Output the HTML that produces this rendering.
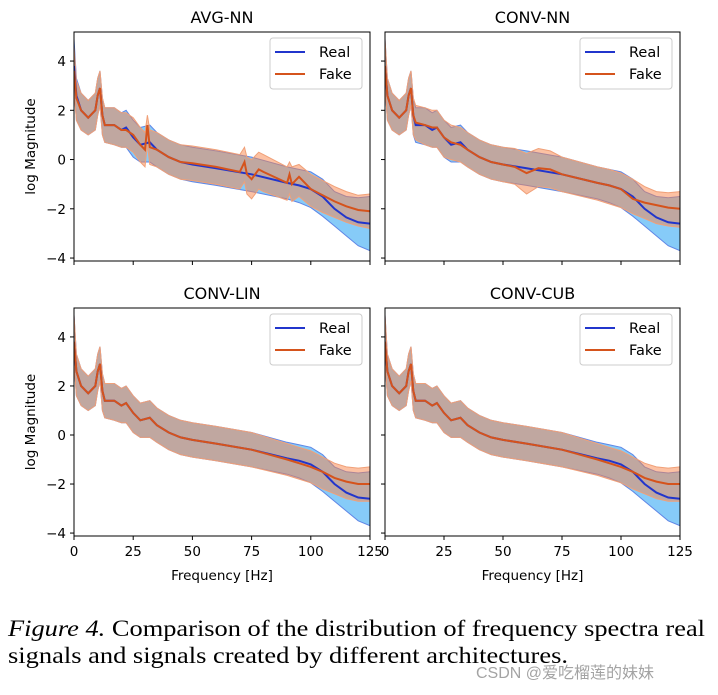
<!DOCTYPE html>
<html><head><meta charset="utf-8"><style>
body{margin:0;background:#fff;width:718px;height:690px;overflow:hidden}
svg text{font-family:"DejaVu Sans","Liberation Sans",sans-serif;fill:#000}
</style></head><body>
<svg id="fig" width="718" height="690" xmlns="http://www.w3.org/2000/svg">
<text x="8" y="636" style="font-family:'Liberation Serif',serif;font-size:23px" textLength="697" lengthAdjust="spacingAndGlyphs"><tspan font-style="italic">Figure 4.</tspan> Comparison of the distribution of frequency spectra real</text>
<text x="8" y="663" style="font-family:'Liberation Serif',serif;font-size:23px" textLength="560" lengthAdjust="spacingAndGlyphs">signals and signals created by different architectures.</text>
<text x="476" y="678" style="font-family:'Liberation Sans','Noto Sans CJK SC',sans-serif;font-size:16px;fill:#9a9a9a;opacity:0.9">CSDN @爱吃榴莲的妹妹</text>
</svg>
<script>
const freq=[0,1,3,6,9,10,11,12,13,17,20,22,25,28,32,35,40,45,50,60,75,90,95,100,105,110,115,120,125];
const realMean=[3.8,2.6,2.0,1.7,2.0,2.6,2.9,1.8,1.4,1.4,1.2,1.3,0.9,0.6,0.7,0.4,0.1,-0.1,-0.2,-0.35,-0.6,-0.95,-1.05,-1.2,-1.5,-2.0,-2.35,-2.55,-2.6];
const realHi=[4.9,3.3,2.7,2.4,2.7,3.3,3.6,2.5,2.1,2.1,1.9,2.0,1.6,1.3,1.4,1.1,0.8,0.6,0.5,0.35,0.1,-0.3,-0.4,-0.5,-0.8,-1.3,-1.5,-1.55,-1.5];
const realLo=[3.0,1.6,1.2,1.0,1.2,1.8,2.2,1.0,0.7,0.6,0.5,0.5,0.1,-0.1,-0.1,-0.3,-0.6,-0.8,-0.9,-1.05,-1.3,-1.6,-1.75,-1.95,-2.3,-2.7,-3.1,-3.5,-3.7];
const fakeFreqAvg=[0,1,3,6,9,10,11,12,13,17,20,22,25,28,30,31,32,35,40,45,50,60,70,72,73,75,78,80,90,91,92,95,100,105,110,115,120,125];
const fakeMeanAvg=[3.6,2.5,2.0,1.7,2.0,2.6,2.9,1.8,1.4,1.4,1.2,1.2,1.0,0.6,0.4,1.4,0.5,0.4,0.1,-0.1,-0.15,-0.3,-0.5,-0.1,-0.6,-0.8,-0.4,-0.5,-0.95,-0.6,-1.0,-0.7,-1.2,-1.45,-1.7,-1.9,-2.05,-2.1];
const fakeHiAvg=[4.6,3.2,2.7,2.4,2.7,3.3,3.6,2.5,2.1,2.1,1.9,1.9,1.7,1.3,1.1,1.8,1.2,1.1,0.8,0.6,0.55,0.4,0.2,0.5,0.1,0.0,0.3,0.2,-0.3,-0.1,-0.3,-0.2,-0.6,-0.85,-1.1,-1.3,-1.45,-1.4];
const fakeLoAvg=[2.8,1.6,1.2,1.0,1.2,1.8,2.2,1.0,0.7,0.6,0.5,0.5,0.3,-0.1,-0.3,0.6,-0.2,-0.3,-0.6,-0.8,-0.85,-1.0,-1.2,-0.9,-1.4,-1.6,-1.2,-1.3,-1.65,-1.4,-1.7,-1.5,-1.9,-2.15,-2.35,-2.55,-2.7,-2.8];
const fakeFreqConv=[0,1,3,6,9,10,11,12,13,17,20,22,25,28,32,35,40,45,50,55,60,65,70,75,90,95,100,105,110,115,120,125];
const fakeMeanConv=[3.8,2.6,2.0,1.7,2.0,2.6,2.9,1.8,1.5,1.4,1.3,1.3,0.9,0.7,0.6,0.4,0.1,-0.1,-0.2,-0.3,-0.55,-0.35,-0.4,-0.6,-0.95,-1.05,-1.2,-1.6,-1.75,-1.85,-1.95,-2.0];
const fakeHiConv=[4.9,3.3,2.7,2.4,2.7,3.3,3.6,2.5,2.2,2.1,2.0,2.0,1.6,1.4,1.3,1.1,0.8,0.6,0.5,0.45,0.25,0.45,0.35,0.1,-0.3,-0.4,-0.55,-0.8,-1.1,-1.3,-1.35,-1.3];
const fakeLoConv=[3.0,1.6,1.2,1.0,1.2,1.8,2.2,1.0,0.8,0.6,0.5,0.5,0.1,0.0,-0.1,-0.3,-0.6,-0.8,-0.9,-1.0,-1.4,-1.1,-1.15,-1.3,-1.65,-1.8,-1.95,-2.2,-2.4,-2.6,-2.7,-2.75];
const fakeMeanSmooth=[3.8,2.6,2.0,1.7,2.0,2.6,2.9,1.8,1.4,1.4,1.2,1.3,0.9,0.6,0.7,0.4,0.1,-0.1,-0.2,-0.35,-0.6,-1.0,-1.15,-1.3,-1.5,-1.75,-1.9,-2.0,-2.0];
const fakeHiSmooth=[4.9,3.3,2.7,2.4,2.7,3.3,3.6,2.5,2.1,2.1,1.9,2.0,1.6,1.3,1.4,1.1,0.8,0.6,0.5,0.35,0.1,-0.35,-0.5,-0.65,-0.9,-1.15,-1.3,-1.35,-1.3];
const fakeLoSmooth=[3.0,1.6,1.2,1.0,1.2,1.8,2.2,1.0,0.7,0.6,0.5,0.5,0.1,-0.1,-0.1,-0.3,-0.6,-0.8,-0.9,-1.05,-1.3,-1.65,-1.8,-1.95,-2.2,-2.4,-2.6,-2.7,-2.7];
const xTicks=[0,25,50,75,100,125];
const yTicks=[-4,-2,0,2,4];
const panelTitles=["AVG-NN","CONV-NN","CONV-LIN","CONV-CUB"];

const NS="http://www.w3.org/2000/svg";
const svg=document.getElementById('fig');
function mk(tag,attrs,parent){const e=document.createElementNS(NS,tag);for(const k in attrs)e.setAttribute(k,attrs[k]);(parent||svg).appendChild(e);return e;}
const panels=[
 {x0:74,x1:370,y0:32,y1:261,yl:true,xl:false,ff:fakeFreqAvg,fm:fakeMeanAvg,fh:fakeHiAvg,flo:fakeLoAvg},
 {x0:385,x1:680,y0:32,y1:261,yl:false,xl:false,ff:fakeFreqConv,fm:fakeMeanConv,fh:fakeHiConv,flo:fakeLoConv},
 {x0:74,x1:370,y0:308,y1:536,yl:true,xl:true,ff:freq,fm:fakeMeanSmooth,fh:fakeHiSmooth,flo:fakeLoSmooth},
 {x0:385,x1:680,y0:308,y1:536,yl:false,xl:true,ff:freq,fm:fakeMeanSmooth,fh:fakeHiSmooth,flo:fakeLoSmooth}
];
const YMIN=-4.12,YMAX=5.18;
panels.forEach((p,i)=>{
 const sx=f=>p.x0+(f/125)*(p.x1-p.x0);
 const sy=v=>p.y1-(v-YMIN)/(YMAX-YMIN)*(p.y1-p.y0);
 const g=mk('g',{});
 
 
 const cp=mk('clipPath',{id:'cp'+i},g);
 mk('rect',{x:p.x0,y:p.y0,width:p.x1-p.x0,height:p.y1-p.y0},cp);
 const pg=mk('g',{'clip-path':'url(#cp'+i+')'},g);
 const band=(fs,hi,lo)=>{let d='';fs.forEach((f,k)=>d+=(k?'L':'M')+sx(f).toFixed(1)+','+sy(hi[k]).toFixed(1));for(let k=fs.length-1;k>=0;k--)d+='L'+sx(fs[k]).toFixed(1)+','+sy(lo[k]).toFixed(1);return d+'Z';};
 const line=(fs,v)=>fs.map((f,k)=>(k?'L':'M')+sx(f).toFixed(1)+','+sy(v[k]).toFixed(1)).join('');
 const rb=mk('path',{d:band(freq,realHi,realLo),fill:'#86cbf8',stroke:'#5f86e6','stroke-width':1},pg);
 
 
 const fb=mk('path',{d:band(p.ff,p.fh,p.flo),fill:'rgb(250,132,72)','fill-opacity':0.5,stroke:'#f0a078','stroke-width':1},pg);
 
 
 const rl=mk('path',{d:line(freq,realMean),fill:'none',stroke:'#2135cc','stroke-width':2},pg);
 
 
 const fl=mk('path',{d:line(p.ff,p.fm),fill:'none',stroke:'#d5531c','stroke-width':2},pg);
 
 
 mk('rect',{x:p.x0,y:p.y0,width:p.x1-p.x0,height:p.y1-p.y0,fill:'none',stroke:'#000','stroke-width':1},g);
 const t=mk('text',{x:(p.x0+p.x1)/2,y:p.y0-9,'text-anchor':'middle','font-size':16},g);t.textContent=panelTitles[i];
 
 
 xTicks.forEach(v=>{mk('line',{x1:sx(v),x2:sx(v),y1:p.y1,y2:p.y1+4,stroke:'#000'},g);
  if(p.xl){const tx=mk('text',{x:sx(v),y:p.y1+20,'text-anchor':'middle','font-size':13.5},g);tx.textContent=v;
   
   }});
 yTicks.forEach(v=>{mk('line',{x1:p.x0-4,x2:p.x0,y1:sy(v),y2:sy(v),stroke:'#000'},g);
  if(p.yl){const ty=mk('text',{x:p.x0-8,y:sy(v)+5,'text-anchor':'end','font-size':13.5},g);ty.textContent=v<0?'\u2212'+(-v):v;
   
   }});
 if(p.yl){const yt=mk('text',{x:0,y:0,'text-anchor':'middle','font-size':13.5,transform:`translate(35,${(p.y0+p.y1)/2}) rotate(-90)`},g);yt.textContent='log Magnitude';
  
  }
 if(p.xl){const xt=mk('text',{x:(p.x0+p.x1)/2,y:p.y1+44,'text-anchor':'middle','font-size':13.5},g);xt.textContent='Frequency [Hz]';
  
  }
 const lg=mk('g',{},g);
 
 
 const lx=p.x1-100,ly=p.y0+6;
 mk('rect',{x:lx,y:ly,width:92,height:51,rx:3,fill:'#fff','fill-opacity':0.85,stroke:'#ccc'},lg);
 mk('line',{x1:lx+5,x2:lx+35,y1:ly+14,y2:ly+14,stroke:'#2135cc','stroke-width':2},lg);
 mk('line',{x1:lx+5,x2:lx+35,y1:ly+36,y2:ly+36,stroke:'#d5531c','stroke-width':2},lg);
 const a=mk('text',{x:lx+49,y:ly+19,'font-size':14.5},lg);a.textContent='Real';
 
 
 const b=mk('text',{x:lx+49,y:ly+41,'font-size':14.5},lg);b.textContent='Fake';
 
 
});
</script>
</body></html>
